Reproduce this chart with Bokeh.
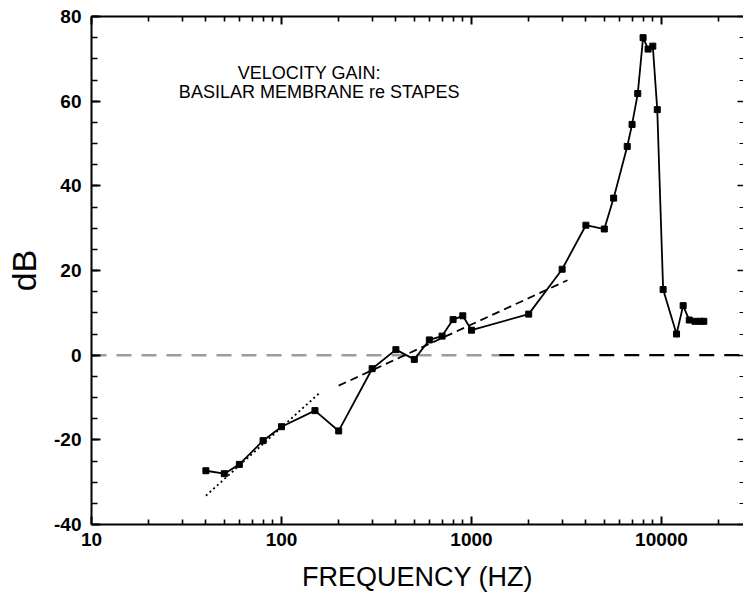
from bokeh.plotting import figure
from bokeh.models import LogAxis, LinearAxis, FixedTicker, Range1d
from bokeh.core.properties import value
from bokeh.embed import file_html
from bokeh.resources import INLINE

# ---- data ----
freq_hz = [40, 50, 60, 80, 100, 150, 200, 300, 400, 500, 600, 700, 800, 900, 1000,
           2000, 3000, 4000, 5000, 5600, 6600, 7000, 7500, 8000, 8500, 9000, 9500,
           10200, 12000, 13000, 14000, 15000, 16000, 16700]
gain_db = [-27.3, -28.0, -25.8, -20.2, -16.9, -13.1, -17.9, -3.2, 1.3, -1.0, 3.6, 4.5,
           8.4, 9.3, 5.9, 9.7, 20.3, 30.7, 29.8, 37.1, 49.3, 54.5, 61.8, 75.0, 72.3,
           73.0, 58.0, 15.5, 5.0, 11.7, 8.3, 8.0, 8.0, 8.0]

# asymptote lines
dotted_fit_x = [40, 157]
dotted_fit_y = [-33.2, -9.1]
dashed_fit_x = [200, 3200]
dashed_fit_y = [-7.2, 17.7]

# zero reference line (left part appears grey in the scan)
zero_x_grey = [10, 1400]
zero_x_black = [1400, 30000]
zero_y = [0, 0]

x_major_ticks = [10, 100, 1000, 10000]
x_tick_labels = ["10", "100", "1000", "10000"]
y_major_ticks = [-40, -20, 0, 20, 40, 60, 80]
y_tick_labels = ["-40", "-20", "0", "20", "40", "60", "80"]

note_lines = ["VELOCITY GAIN:", "BASILAR MEMBRANE re STAPES"]
note_x = [140, 158]
note_y = [66.6, 62.1]

# ---- figure ----
FRAME_W = 652
DECADE_PX = 190
x_end = 10 ** (1 + FRAME_W / DECADE_PX)

p = figure(frame_width=FRAME_W, frame_height=508, x_axis_type="log",
           x_range=Range1d(10, x_end), y_range=Range1d(-40, 80),
           output_backend="svg", toolbar_location=None,
           min_border_left=91, min_border_top=16, min_border_right=0, min_border_bottom=0)
p.outline_line_color = None
p.grid.visible = False
p.background_fill_color = "white"
p.border_fill_color = "white"

x_minor = [m * d for d in [10, 100, 1000, 10000] for m in range(2, 10)]
y_minor = list(range(-40, 81, 5))

FONT = "Liberation Sans"

def style_axis(ax, major_len, minor_len):
    ax.axis_line_width = 2
    ax.axis_line_color = "black"
    ax.major_tick_line_width = 2
    ax.minor_tick_line_width = 1.6
    ax.major_tick_line_color = "black"
    ax.minor_tick_line_color = "black"
    ax.major_tick_in = major_len
    ax.major_tick_out = 0
    ax.minor_tick_in = minor_len
    ax.minor_tick_out = 0

# bottom axis
xa = p.xaxis[0]
xa.ticker = FixedTicker(ticks=x_major_ticks, minor_ticks=x_minor)
xa.major_label_overrides = {t: l for t, l in zip(x_major_ticks, x_tick_labels)}
style_axis(xa, 8, 5)
xa.major_label_text_font = FONT
xa.major_label_text_font_size = "19px"
xa.major_label_text_font_style = "bold"
xa.major_label_text_color = "black"
xa.major_label_standoff = 8
xa.axis_label = "FREQUENCY (HZ)"
xa.axis_label_text_font = FONT
xa.axis_label_text_font_size = "27px"
xa.axis_label_text_font_style = "normal"
xa.axis_label_text_color = "black"
xa.axis_label_standoff = 13

# left axis
ya = p.yaxis[0]
ya.ticker = FixedTicker(ticks=y_major_ticks, minor_ticks=y_minor)
ya.major_label_overrides = {t: l for t, l in zip(y_major_ticks, y_tick_labels)}
style_axis(ya, 9, 6)
ya.major_label_text_font = FONT
ya.major_label_text_font_size = "19px"
ya.major_label_text_font_style = "bold"
ya.major_label_text_color = "black"
ya.major_label_standoff = 10
ya.axis_label = "dB"
ya.axis_label_text_font = FONT
ya.axis_label_text_font_size = "34px"
ya.axis_label_text_font_style = "normal"
ya.axis_label_text_color = "black"
ya.axis_label_standoff = 8

# top axis (ticks only)
top = LogAxis(ticker=FixedTicker(ticks=x_major_ticks, minor_ticks=x_minor))
style_axis(top, 8, 5)
top.major_label_text_font_size = "1px"
top.major_label_text_color = None
top.major_label_standoff = 0
p.add_layout(top, "above")

# right axis (ticks only, frame line falls outside the cropped picture)
right = LinearAxis(ticker=FixedTicker(ticks=y_major_ticks, minor_ticks=y_minor))
style_axis(right, 6, 4)
right.axis_line_color = None
right.major_tick_line_width = 1.5
right.minor_tick_line_width = 1.2
right.major_label_text_font_size = "1px"
right.major_label_text_color = None
right.major_label_standoff = 0
p.add_layout(right, "right")

# zero line
p.line(zero_x_grey, zero_y, line_color="#9c9c9c", line_width=2.5, line_dash="15 10")
p.line(zero_x_black, zero_y, line_color="black", line_width=2.2, line_dash="15 10")

# asymptotes
p.line(dotted_fit_x, dotted_fit_y, line_color="black", line_width=1.8, line_dash="2 3")
p.line(dashed_fit_x, dashed_fit_y, line_color="black", line_width=1.8, line_dash="8 5")

# measured gain
p.line(freq_hz, gain_db, line_color="black", line_width=1.8)
p.scatter(freq_hz, gain_db, marker="square", size=6, fill_color="black", line_color="black")

# annotation
p.text(x=note_x, y=note_y, text=note_lines, text_font=value(FONT),
       text_font_size="18px", text_align="center", text_baseline="middle",
       text_color="black")

open("out.html", "w").write(file_html(p, INLINE))
